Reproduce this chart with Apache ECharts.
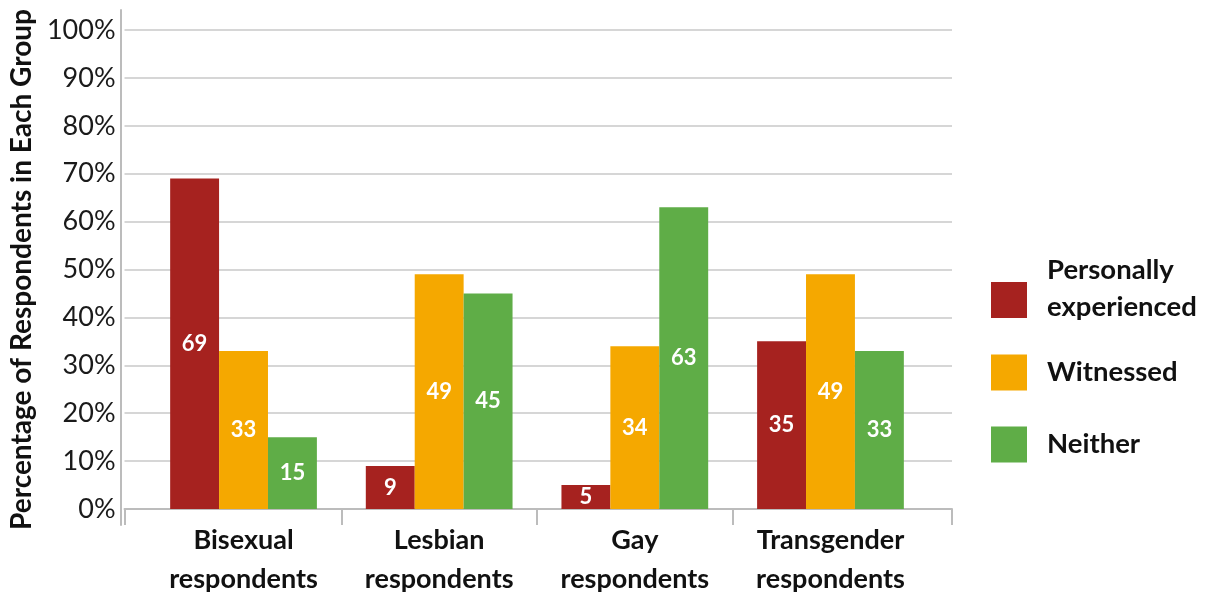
<!DOCTYPE html>
<html>
<head>
<meta charset="utf-8">
<script src="https://cdn.jsdelivr.net/npm/echarts@6/dist/echarts.min.js"></script>
<style>
html,body{margin:0;padding:0;background:#fff;}
#chart{width:1211px;height:599px;}
</style>
</head>
<body>
<div id="chart"></div>
<script>
var categories = ['Bisexual respondents', 'Lesbian respondents', 'Gay respondents', 'Transgender respondents'];
var seriesNames = ['Personally experienced', 'Witnessed', 'Neither'];
var personally = [69, 9, 5, 35];
var witnessed = [33, 49, 34, 49];
var neither = [15, 45, 63, 33];
var yTicks = [0, 10, 20, 30, 40, 50, 60, 70, 80, 90, 100];

var colors = ['#A6221F', '#F5A800', '#5FAD47'];
var FONT = 'Lato';
var gridColor = '#c8c8c8';
var axisColor = '#bcbcbc';

var chart = echarts.init(document.getElementById('chart'), null, {renderer: 'canvas'});

var plotTop = 30, plotBottom = 90;
var barLeft = 145.7, barRight = 1211 - 928.3;

function barSeries(name, data, idx) {
  return {
    name: name, type: 'bar', xAxisIndex: 1, yAxisIndex: 1,
    data: data, barGap: '0%', barCategoryGap: '25%',
    itemStyle: {color: colors[idx]},
    label: {show: true, position: 'inside', color: '#fff', fontFamily: FONT, fontWeight: 'bold', fontSize: 22},
    emphasis: {disabled: true},
    animation: false
  };
}

var legendText = {fontFamily: FONT, fontWeight: 'bold', fontSize: 27.5, color: '#111', lineHeight: 37};
var legendBase = {
  orient: 'vertical', left: 986, itemWidth: 36, itemHeight: 36, icon: 'rect',
  selectedMode: false
};

var option = {
  backgroundColor: '#fff',
  animation: false,
  grid: [
    {left: 121, right: 259, top: plotTop, bottom: plotBottom},
    {left: barLeft, right: barRight, top: plotTop, bottom: plotBottom},
    {left: barLeft, right: barRight, top: 509, height: 16},
    {left: 121, width: 1, top: 10, bottom: 74}
  ],
  legend: [
    Object.assign({}, legendBase, {top: 247, data: [seriesNames[0]],
      formatter: function (n) {
        var parts = n.split(' ');
        return '{a|' + parts[0] + '}\n{a|' + parts[1] + '}\n{s| }';
      },
      textStyle: Object.assign({}, legendText, {padding: [0, 0, 0, 15],
        rich: {
          a: {fontFamily: FONT, fontWeight: 'bold', fontSize: 27.5, color: '#111', lineHeight: 37},
          s: {fontSize: 1, lineHeight: 22, height: 22}
        }})}),
    Object.assign({}, legendBase, {top: 349, data: [seriesNames[1]],
      textStyle: Object.assign({}, legendText, {padding: [0, 0, 0, 15]})}),
    Object.assign({}, legendBase, {top: 421, data: [seriesNames[2]],
      textStyle: Object.assign({}, legendText, {padding: [0, 0, 0, 15]})})
  ],
  xAxis: [
    {gridIndex: 0, type: 'value', min: 0, max: 1, interval: 1,
      axisLine: {show: true, lineStyle: {color: axisColor, width: 2}},
      axisTick: {show: true, length: 16, lineStyle: {color: axisColor, width: 2}},
      axisLabel: {show: false}, splitLine: {show: false}},
    {gridIndex: 1, type: 'category', data: categories,
      axisLine: {show: false}, axisTick: {show: false},
      axisLabel: {show: true, margin: 12, fontFamily: FONT, fontWeight: 'bold', fontSize: 27, color: '#111', lineHeight: 39,
        formatter: function (v) { return v.replace(' ', '\n'); }},
      splitLine: {show: false}},
    {gridIndex: 2, type: 'category', data: categories,
      axisLine: {show: false}, axisTick: {show: false}, axisLabel: {show: false},
      splitLine: {show: true, showMinLine: false, showMaxLine: false, lineStyle: {color: axisColor, width: 2}}},
    {gridIndex: 3, type: 'value', show: false}
  ],
  yAxis: [
    {gridIndex: 0, type: 'value', min: 0, max: 100, interval: 10,
      name: 'Percentage of Respondents in Each Group', nameLocation: 'middle', nameGap: 82,
      nameTextStyle: {fontFamily: FONT, fontWeight: 'bold', fontSize: 28, color: '#111'},
      axisLine: {show: false}, axisTick: {show: false},
      axisLabel: {margin: 9, fontFamily: FONT, fontSize: 27, color: '#1a1a1a', formatter: '{value}%'},
      splitLine: {show: true, lineStyle: {color: gridColor, width: 1.5}}},
    {gridIndex: 1, type: 'value', min: 0, max: 100, show: false},
    {gridIndex: 2, type: 'value', show: false},
    {gridIndex: 3, type: 'value', min: 0, max: 1,
      axisLine: {show: true, onZero: false, lineStyle: {color: axisColor, width: 2}},
      axisTick: {show: false}, axisLabel: {show: false}, splitLine: {show: false}}
  ],
  series: [
    barSeries(seriesNames[0], personally, 0),
    barSeries(seriesNames[1], witnessed, 1),
    barSeries(seriesNames[2], neither, 2)
  ]
};
chart.setOption(option);
</script>
</body>
</html>
